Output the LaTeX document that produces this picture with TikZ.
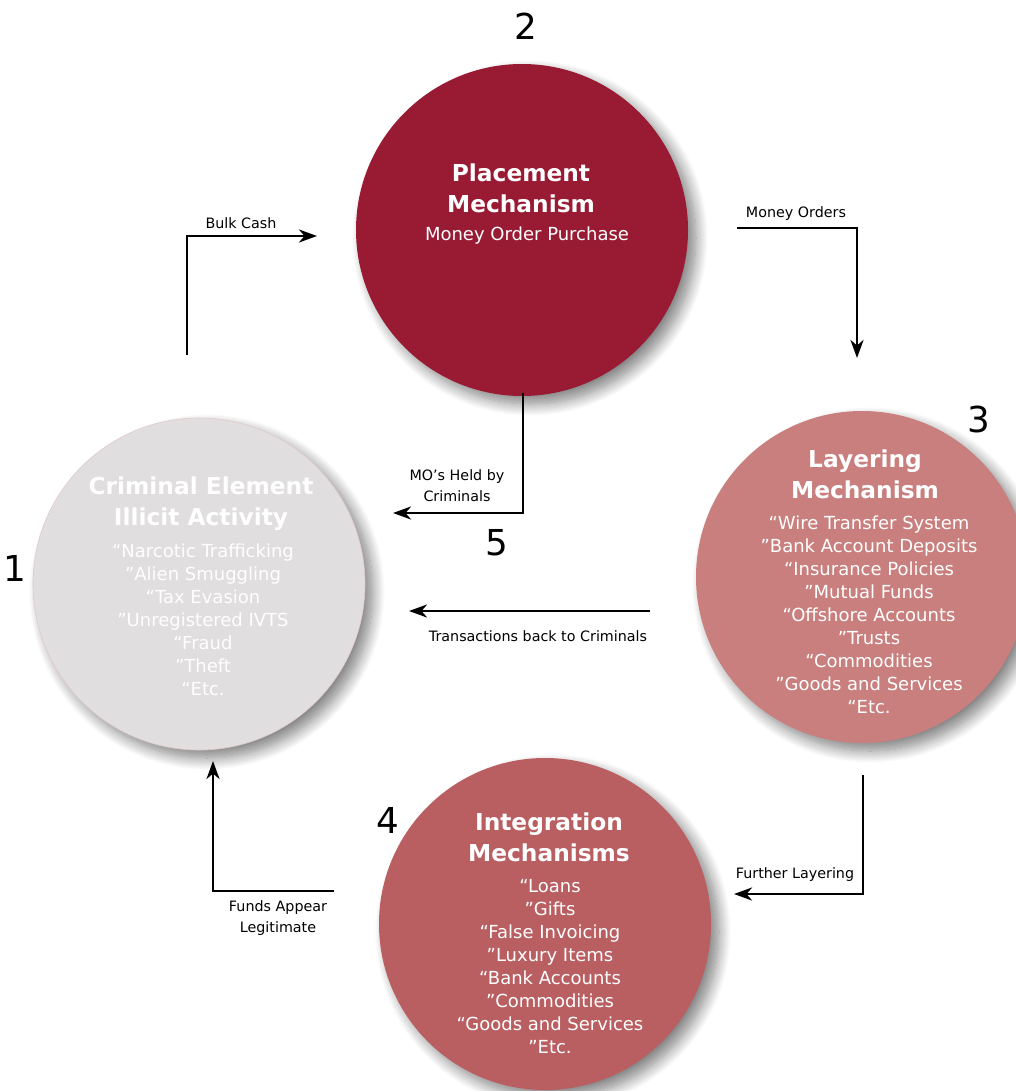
\documentclass[tikz,border=0pt]{standalone}
\usepackage{fontspec}
\setmainfont{DejaVu Sans}
\usetikzlibrary{arrows.meta,shadows.blur}
\definecolor{placeC}{HTML}{981A33}
\definecolor{layerC}{HTML}{C87F7D}
\definecolor{integC}{HTML}{B95F62}
\definecolor{crimC}{HTML}{E0DEDE}
\definecolor{crimEdge}{HTML}{E2C9C9}
\begin{document}
\begin{tikzpicture}[x=1pt,y=-1pt,
  circ/.style={circle, minimum size=332pt, inner sep=0pt,
    blur shadow={shadow xshift=8pt, shadow yshift=-8pt, shadow blur radius=12pt,
      shadow blur steps=14, shadow opacity=50}},
  ttl/.style={text=white, font=\fontsize{23.3}{31}\selectfont\bfseries, align=center, inner sep=0pt},
  lst/.style={text=white, font=\fontsize{18}{23}\selectfont, align=center, inner sep=0pt},
  lbl/.style={font=\fontsize{14.3}{21}\selectfont, align=center, inner sep=0pt},
  num/.style={font=\fontsize{35.7}{40}\selectfont, inner sep=0pt},
  conn/.style={line width=2.8pt, -{Stealth[length=18pt,width=13pt,inset=5.5pt]}}
]
\useasboundingbox (0,0) rectangle (1016,1091);
\clip (0,0) rectangle (1016,1091);

% circles
\node[circ, fill=crimC, draw=crimEdge, line width=0.6pt] (c1) at (199,584) {};
\node[circ, fill=placeC] (c2) at (522,230) {};
\node[circ, fill=layerC] (c3) at (862,577) {};
\node[circ, fill=integC] (c4) at (545,924) {};

% circle texts
\node[ttl] (t1) at (201,503.8) {Criminal Element\\Illicit Activity};
\node[lst] (l1) at (203,620) {“Narcotic Trafficking\\”Alien Smuggling\\“Tax Evasion\\”Unregistered IVTS\\“Fraud\\”Theft\\“Etc.};

\node[ttl] (t2) at (521,188) {Placement\\Mechanism};
\node[lst] (l2) at (527,236) {Money Order Purchase};

\node[ttl] (t3) at (865,474.5) {Layering\\Mechanism};
\node[lst] (l3) at (869,615) {“Wire Transfer System\\”Bank Account Deposits\\“Insurance Policies\\”Mutual Funds\\“Offshore Accounts\\”Trusts\\“Commodities\\”Goods and Services\\“Etc.};

\node[ttl] (t4) at (549,837) {Integration\\Mechanisms};
\node[lst] (l4) at (550,966.5) {“Loans\\”Gifts\\“False Invoicing\\”Luxury Items\\“Bank Accounts\\”Commodities\\“Goods and Services\\”Etc.};

% numbers
\node[num] (n1) at (15,568) {1};
\node[num] (n2) at (526,26) {2};
\node[num] (n3) at (979,420) {3};
\node[num] (n4) at (388,820) {4};
\node[num] (n5) at (497,543) {5};

% connector end points
\coordinate (bcS) at (187,355);
\coordinate (bcE) at (317,236);
\coordinate (moS) at (737,228);
\coordinate (moE) at (857,358);
\coordinate (mhS) at (523,393);
\coordinate (mhE) at (393,513);
\coordinate (trS) at (650,611);
\coordinate (trE) at (409,611);
\coordinate (flS) at (863,775);
\coordinate (flE) at (734,894);
\coordinate (faS) at (334,891);
\coordinate (faE) at (213,761);

\draw[conn] (bcS) |- (bcE);
\draw[conn] (moS) -| (moE);
\draw[conn] (mhS) |- (mhE);
\draw[conn] (trS) -- (trE);
\draw[conn] (flS) |- (flE);
\draw[conn] (faS) -| (faE);

% connector labels
\node[lbl] (bcL) at (241,223) {Bulk Cash};
\node[lbl] (moL) at (796,214) {Money Orders};
\node[lbl] (mhL) at (457,486) {MO’s Held by\\Criminals};
\node[lbl] (trL) at (538,636) {Transactions back to Criminals};
\node[lbl] (flL) at (795,875) {Further Layering};
\node[lbl] (faL) at (278,918) {Funds Appear\\Legitimate};
\end{tikzpicture}
\end{document}
